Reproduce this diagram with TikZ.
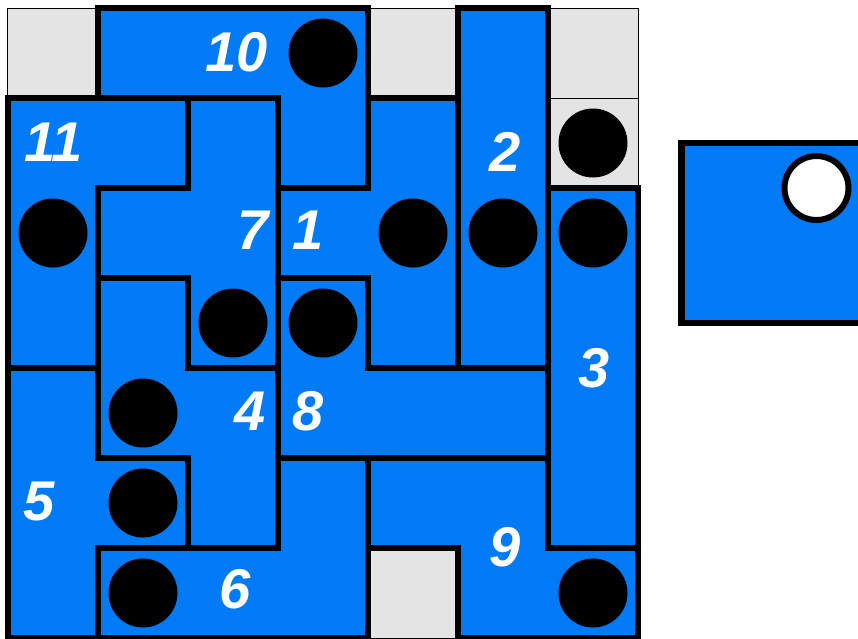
\documentclass[tikz,border=0pt]{standalone}
\usepackage{fontspec}
\setmainfont{Liberation Sans}
\definecolor{pieceblue}{RGB}{0,122,245}
\definecolor{emptygray}{RGB}{228,228,228}
\tikzset{
  piece/.style={fill=pieceblue, draw=black, line width=6.5pt, line join=miter},
  emptycell/.style={fill=emptygray, draw=black, line width=1pt},
  peg/.style={fill=black, draw=none},
  hole/.style={fill=white, draw=black, line width=6pt},
  num/.style={text=white, inner sep=0pt, font=\fontsize{56}{60}\selectfont\bfseries\itshape}
}
\begin{document}
\begin{tikzpicture}[x=90pt,y=-90pt]
\useasboundingbox (-8/90,-8/90) rectangle (850/90,7);
% empty cells
\foreach \c/\r in {0/0,4/0,6/0,6/1,4/6}
  \draw[emptycell] (\c,\r) rectangle ++(1,1);
% pieces
\draw[piece] (1,0)--(4,0)--(4,2)--(3,2)--(3,1)--(1,1)--cycle; % 10
\draw[piece] (0,1)--(2,1)--(2,2)--(1,2)--(1,4)--(0,4)--cycle; % 11
\draw[piece] (2,1)--(3,1)--(3,4)--(2,4)--(2,3)--(1,3)--(1,2)--(2,2)--cycle; % 7
\draw[piece] (4,1)--(5,1)--(5,4)--(4,4)--(4,3)--(3,3)--(3,2)--(4,2)--cycle; % 1
\draw[piece] (5,0)--(6,0)--(6,4)--(5,4)--cycle; % 2
\draw[piece] (6,2)--(7,2)--(7,6)--(6,6)--cycle; % 3
\draw[piece] (3,3)--(4,3)--(4,4)--(6,4)--(6,5)--(3,5)--cycle; % 8
\draw[piece] (1,3)--(2,3)--(2,4)--(3,4)--(3,6)--(2,6)--(2,5)--(1,5)--cycle; % 4
\draw[piece] (0,4)--(1,4)--(1,5)--(2,5)--(2,6)--(1,6)--(1,7)--(0,7)--cycle; % 5
\draw[piece] (1,6)--(3,6)--(3,5)--(4,5)--(4,7)--(1,7)--cycle; % 6
\draw[piece] (4,5)--(6,5)--(6,6)--(7,6)--(7,7)--(5,7)--(5,6)--(4,6)--cycle; % 9
% pegs
\foreach \c/\r in {3/0,6/1,0/2,4/2,5/2,6/2,2/3,3/3,1/4,1/5,1/6,6/6}
  \fill[peg] (\c+0.5,\r+0.5) circle[radius=34.5pt];
% separate piece
\draw[piece] (7.483,1.5) rectangle (9.483,3.5);
\draw[hole] (8.983,2.0) circle[radius=32pt];
% labels
\node[num] (l10) at (2.544,0.489) {10};
\node[num] (l11) at (0.511,1.489) {11};
\node[num] (l2) at (5.522,1.6) {2};
\node[num] (l7) at (2.722,2.467) {7};
\node[num] (l1) at (3.333,2.467) {1};
\node[num] (l3) at (6.511,4.0) {3};
\node[num] (l4) at (2.689,4.478) {4};
\node[num] (l8) at (3.333,4.478) {8};
\node[num] (l5) at (0.344,5.478) {5};
\node[num] (l6) at (2.522,6.456) {6};
\node[num] (l9) at (5.522,5.989) {9};
\end{tikzpicture}
\end{document}
